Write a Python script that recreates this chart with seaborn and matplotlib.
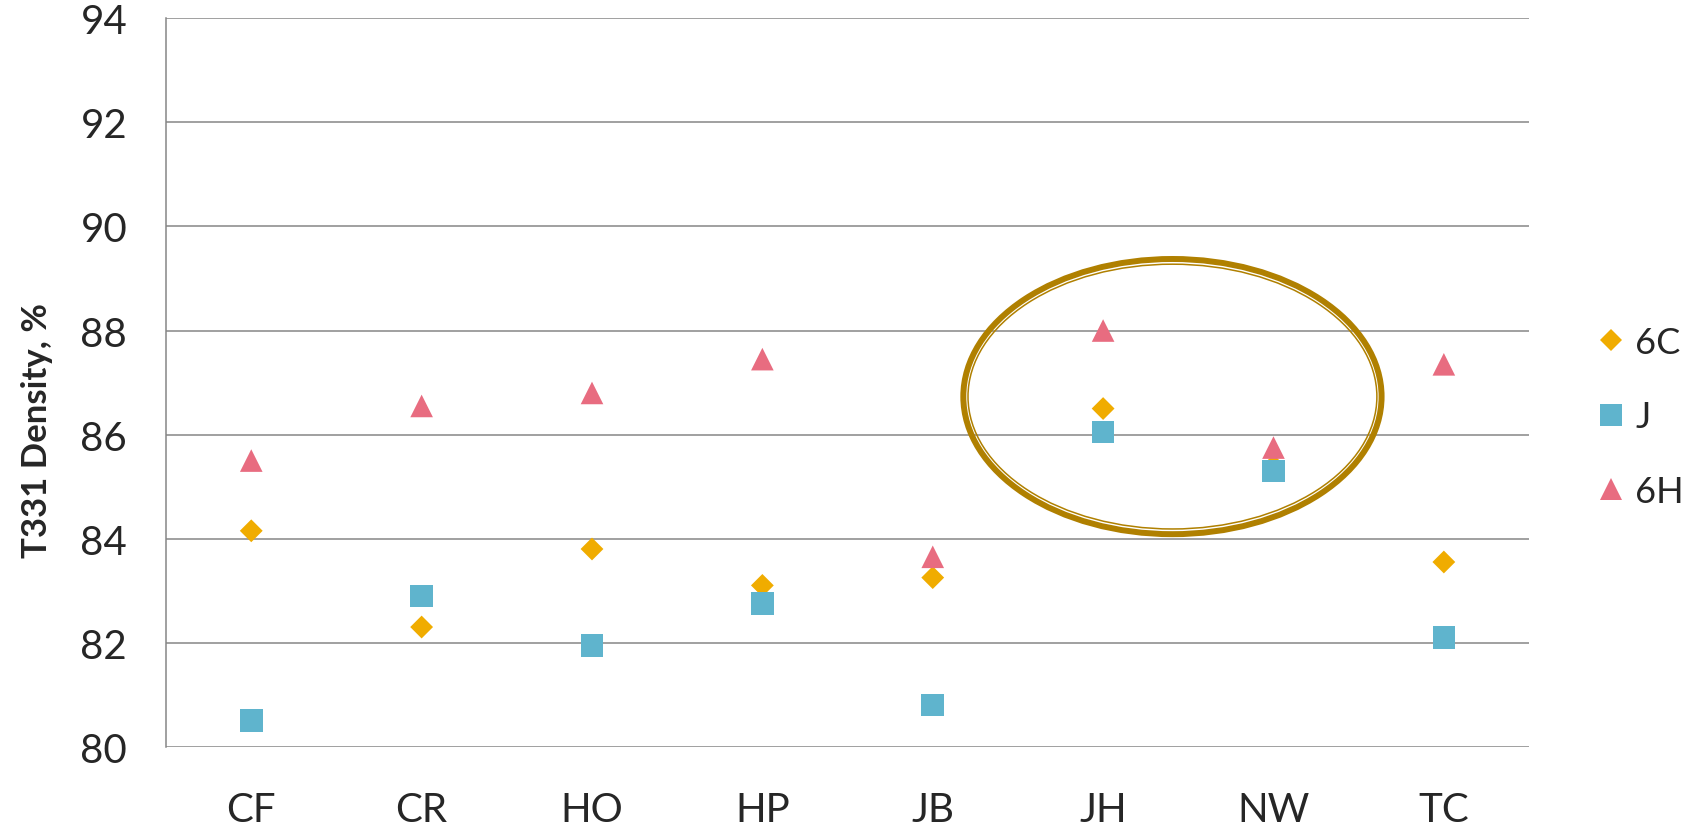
import numpy as np
import pandas as pd
import seaborn as sb
import matplotlib.pyplot as plt
from matplotlib.patches import Ellipse

# valores
sites = ['CF', 'CR', 'HO', 'HP', 'JB', 'JH', 'NW', 'TC']
dens_6c = [84.15, 82.3, 83.8, 83.1, 83.25, 86.5, 85.4, 83.55]
dens_j = [80.5, 82.9, 81.95, 82.75, 80.8, 86.05, 85.3, 82.1]
dens_6h = [85.5, 86.55, 86.8, 87.45, 83.65, 88.0, 85.75, 87.35]
series = ['6C', 'J', '6H']
yticks = [80, 82, 84, 86, 88, 90, 92, 94]

df = pd.DataFrame({
    'site': sites * 3,
    'density': dens_6c + dens_j + dens_6h,
    'series': [s for s in series for _ in sites],
})

sb.set_style('white')
plt.rcParams['font.family'] = ['Lato', 'DejaVu Sans']

fig = plt.figure(figsize=(16.86, 8.29), dpi=100)
ax = fig.add_axes([0.0985, 0.0981, 0.8084, 0.8785])

cores = {'6C': '#f0ac00', 'J': '#5fb4cd', '6H': '#e86c80'}
marcadores = {'6C': 'D', 'J': 's', '6H': '^'}
tamanhos = {'6C': 135, 'J': 265, '6H': 265}

sb.scatterplot(data=df, x='site', y='density', hue='series', style='series',
               size='series', palette=cores, markers=marcadores, sizes=tamanhos,
               linewidth=0, alpha=1, ax=ax, zorder=3)

ax.set_xlim(-0.5, len(sites) - 0.5)
ax.set_ylim(80, 94)
ax.set_yticks(yticks)
ax.yaxis.grid(True, color='#868686', linewidth=1.1)
ax.xaxis.grid(False)
ax.tick_params(axis='both', length=0, labelsize=29)
ax.tick_params(axis='y', pad=28)
ax.tick_params(axis='x', pad=32)
for lado in ['top', 'right', 'bottom']:
    ax.spines[lado].set_visible(False)
ax.spines['left'].set_color('#868686')
ax.spines['left'].set_linewidth(1.1)

ax.set_xlabel('')
ax.set_ylabel('T331 Density, %', fontsize=25, fontweight='bold')
ax.yaxis.set_label_coords(-0.083, 0.436)

# elipse dupla destacando JH e NW
ax.add_patch(Ellipse((5.407, 86.73), 2.455, 5.29, fill=False,
                     edgecolor='#b08000', linewidth=4.3, zorder=4))
ax.add_patch(Ellipse((5.407, 86.73), 2.40, 5.09, fill=False,
                     edgecolor='#b08000', linewidth=1.1, zorder=4))

leg = ax.legend(loc='center left', bbox_to_anchor=(0.9406, 0.496),
                bbox_transform=fig.transFigure, frameon=False, fontsize=26,
                handlelength=0.6, handletextpad=0.37, labelspacing=1.15,
                borderaxespad=0)

fig.savefig('out.png', dpi=100)
